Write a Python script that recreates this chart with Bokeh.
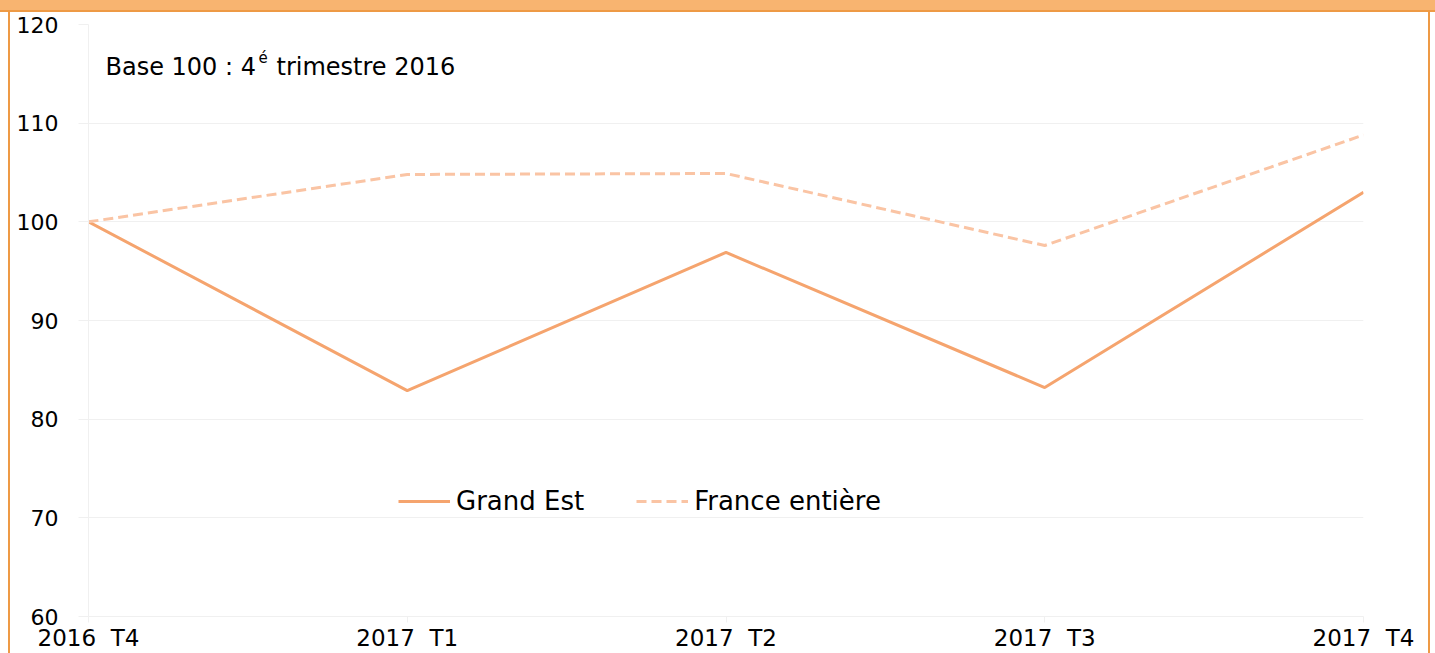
from bokeh.plotting import figure
from bokeh.models import Range1d, FixedTicker, Legend, LegendItem, Label
from bokeh.embed import file_html
from bokeh.resources import INLINE

# ---- data ----
quarters = ["2016\u00a0\u00a0T4", "2017\u00a0\u00a0T1", "2017\u00a0\u00a0T2",
            "2017\u00a0\u00a0T3", "2017\u00a0\u00a0T4"]
grand_est = [100.0, 82.9, 96.9, 83.2, 103.0]
france = [100.0, 104.8, 104.9, 97.6, 108.8]
y_ticks = [60, 70, 80, 90, 100, 110, 120]
note_main = "Base 100 : 4"
note_sup = "é"
note_rest = "trimestre 2016"

FONT = "DejaVu Sans"
C_GE = "#F5A46E"
C_FR = "#FAC4A4"
GRID = "#F0F0F0"
BAND = "#F8B470"
EDGE = "#EE9A45"

W, H = 1435, 653
p = figure(width=W, height=H, output_backend="svg", toolbar_location=None,
           x_range=Range1d(0, len(quarters) - 1), y_range=Range1d(60, 120),
           min_border_left=88, min_border_right=72, min_border_top=24, min_border_bottom=36)
p.background_fill_color = "white"
p.border_fill_color = None
p.outline_line_color = None
# orange header band and frame border drawn behind the (transparent) canvas border area
p.styles = {
    "background": (
        f"linear-gradient({BAND},{BAND}) 0 0/100% 10px no-repeat, "
        f"linear-gradient({EDGE},{EDGE}) 0 10px/100% 2px no-repeat, "
        f"linear-gradient({EDGE},{EDGE}) 8px 10px/2px 100% no-repeat, "
        f"linear-gradient({EDGE},{EDGE}) 1428px 10px/2px 100% no-repeat, "
        "white"
    )
}

xs = list(range(len(quarters)))
r1 = p.line(xs, grand_est, line_color=C_GE, line_width=3)
r2 = p.line(xs, france, line_color=C_FR, line_width=3, line_dash="10 5")

# axes
p.xaxis.ticker = FixedTicker(ticks=xs)
p.xaxis.major_label_overrides = {i: q for i, q in enumerate(quarters)}
p.yaxis.ticker = FixedTicker(ticks=y_ticks)
for ax in (p.xaxis[0], p.yaxis[0]):
    ax.axis_line_color = GRID
    ax.major_tick_line_color = GRID
    ax.minor_tick_line_color = None
    ax.major_tick_in = 0
    ax.major_label_text_font = FONT
    ax.major_label_text_color = "#000000"
p.yaxis.major_label_text_font_size = "22px"
p.xaxis.major_label_text_font_size = "23px"
p.yaxis.major_tick_out = 10
p.yaxis.major_label_standoff = 20
p.xaxis.major_tick_out = 6
p.xaxis.major_label_standoff = 2

p.xgrid.grid_line_color = None
p.ygrid.grid_line_color = GRID
p.ygrid.grid_line_width = 1

# legend
legend = Legend(items=[LegendItem(label="Grand Est", renderers=[r1]),
                       LegendItem(label="France entière", renderers=[r2])],
                orientation="horizontal", location=(310, 100),
                label_text_font=FONT, label_text_font_size="26px",
                label_text_color="#000000",
                glyph_width=52, glyph_height=30, label_height=30,
                label_standoff=6, spacing=52, padding=0, margin=0,
                background_fill_alpha=0, border_line_color=None)
p.add_layout(legend)

# annotation text (with superscript)
px = 4.0 / 1275.0
p.add_layout(Label(x=(105 - 88) * px, y=115.7, text=note_main, text_font=FONT,
                   text_font_size="24px", text_baseline="alphabetic", text_color="#000000"))
p.add_layout(Label(x=(258 - 88) * px, y=116.6, text=note_sup, text_font=FONT,
                   text_font_size="15px", text_baseline="alphabetic", text_color="#000000"))
p.add_layout(Label(x=(276 - 88) * px, y=115.7, text=note_rest, text_font=FONT,
                   text_font_size="24px", text_baseline="alphabetic", text_color="#000000"))

open("out.html", "w").write(file_html(p, INLINE))
